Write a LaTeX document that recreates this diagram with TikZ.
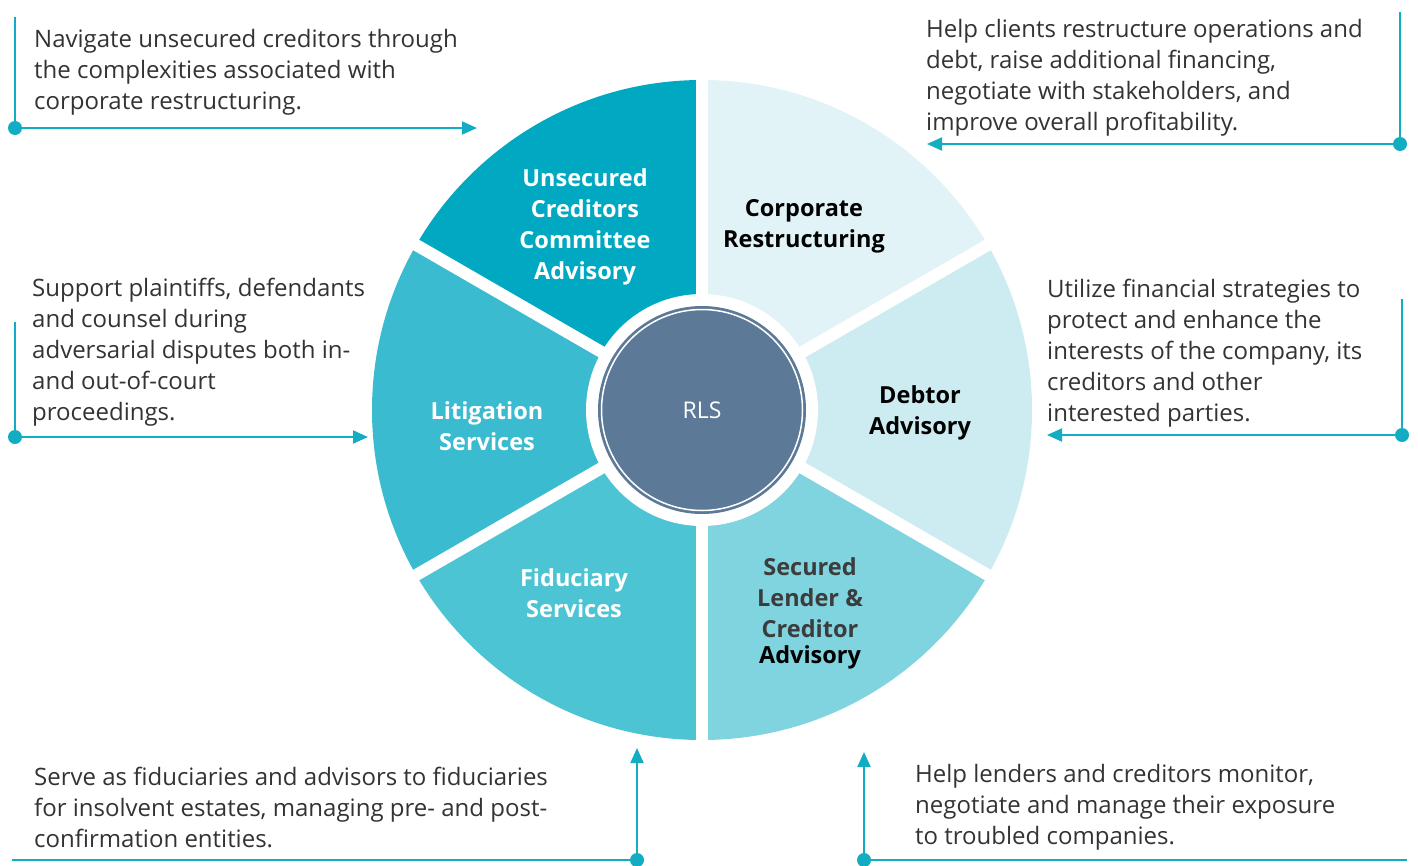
\documentclass[tikz,border=0pt]{standalone}
\usepackage{fontspec}
\setmainfont{Open Sans}
\usetikzlibrary{arrows.meta,calc}
\definecolor{cUnsec}{HTML}{00A9C1}
\definecolor{cCorp}{HTML}{E1F3F6}
\definecolor{cDebt}{HTML}{CCECF1}
\definecolor{cSec}{HTML}{7FD4E0}
\definecolor{cFid}{HTML}{4DC4D4}
\definecolor{cLit}{HTML}{3BBBCF}
\definecolor{cCenter}{HTML}{5C7A98}
\definecolor{cLine}{HTML}{12ADC2}
\definecolor{cText}{HTML}{333333}
\definecolor{cDark}{HTML}{3C3C3C}
\begin{document}
\begin{tikzpicture}[x=1pt,y=-1pt,
  conn/.style={draw=cLine, line width=2pt},
  arr/.style={conn, -{Triangle[length=15pt,width=13pt]}},
  dotnode/.style={circle, fill=cLine, minimum size=14pt, inner sep=0pt},
  desc/.style={align=left, anchor=west, inner sep=0pt, text=cText, font=\fontsize{24}{31}\selectfont},
  lab/.style={align=center, inner sep=0pt, font=\bfseries\fontsize{23.5}{31}\selectfont},
  gap/.style={draw=white, line width=12pt},
]
\useasboundingbox (0,0) rectangle (1418,865);
\coordinate (C) at (702,410);

% sectors (triangles clipped to the outer circle)
\begin{scope}
  \clip (C) circle (330);
  \fill[cUnsec] (C) -- ++(-150:700) -- ($(C)+(-90:700)$) -- cycle;
  \fill[cCorp]  (C) -- ++(-90:700)  -- ($(C)+(-30:700)$) -- cycle;
  \fill[cDebt]  (C) -- ++(-30:700)  -- ($(C)+(30:700)$) -- cycle;
  \fill[cSec]   (C) -- ++(30:700)   -- ($(C)+(90:700)$) -- cycle;
  \fill[cFid]   (C) -- ++(90:700)   -- ($(C)+(150:700)$) -- cycle;
  \fill[cLit]   (C) -- ++(150:700)  -- ($(C)+(210:700)$) -- cycle;
\end{scope}
\foreach \a in {90,30,-30,-90,-150,150} \draw[gap] (C) -- ++(\a:345);
\fill[white] (C) circle (116);
\node[circle, fill=cCenter, minimum size=208pt, inner sep=0pt, text=white, font=\fontsize{23}{28}\selectfont] (rls) at (C) {RLS};
\draw[white, line width=1.5pt] (C) circle (100.5);

% segment labels
\node[lab, text=white] (lUnsec) at (585,227) {Unsecured\\Creditors\\Committee\\Advisory};
\node[lab, text=black] (lCorp) at (804,226) {Corporate\\Restructuring};
\node[lab, text=black] (lDebt) at (920,413) {Debtor\\Advisory};
\node[lab, text=cDark] (lSec) at (810,613) {Secured\\Lender \&\\Creditor\\[-5pt]{\color{black}Advisory}};
\node[lab, text=white] (lFid) at (574,593) {Fiduciary\\Services};
\node[lab, text=white] (lLit) at (487,426) {Litigation\\Services};

% descriptions
\node[desc] (t1) at (34,72) {Navigate unsecured creditors through\\the complexities associated with\\corporate restructuring.};
\node[desc] (t2) at (926,78) {Help clients restructure operations and\\debt, raise additional financing,\\negotiate with stakeholders, and\\improve overall profitability.};
\node[desc] (t3) at (1047,353) {Utilize financial strategies to\\protect and enhance the\\interests of the company, its\\creditors and other\\interested parties.};
\node[desc] (t4) at (32,352) {Support plaintiffs, defendants\\and counsel during\\adversarial disputes both in-\\and out-of-court\\proceedings.};
\node[desc] (t5) at (34,807) {Serve as fiduciaries and advisors to fiduciaries\\for insolvent estates, managing pre- and post-\\confirmation entities.};
\node[desc] (t6) at (915,807) {Help lenders and creditors monitor,\\negotiate and manage their exposure\\to troubled companies.};

% connectors
\node[dotnode] (d1) at (15,128) {};
\coordinate (v1) at (15,17);
\coordinate (a1) at (477,128);
\draw[conn] (d1.center) -- (v1);
\draw[arr] (d1.center) -- (a1);

\node[dotnode] (d2) at (1400,144) {};
\coordinate (v2) at (1400,12);
\coordinate (a2) at (927,144);
\draw[conn] (d2.center) -- (v2);
\draw[arr] (d2.center) -- (a2);

\node[dotnode] (d3) at (1402,435) {};
\coordinate (v3) at (1402,299);
\coordinate (a3) at (1047,435);
\draw[conn] (d3.center) -- (v3);
\draw[arr] (d3.center) -- (a3);

\node[dotnode] (d4) at (15,437) {};
\coordinate (v4) at (15,322);
\coordinate (a4) at (368,437);
\draw[conn] (d4.center) -- (v4);
\draw[arr] (d4.center) -- (a4);

\node[dotnode] (d5) at (637,860) {};
\coordinate (v5) at (12,860);
\coordinate (a5) at (637,748);
\draw[conn] (d5.center) -- (v5);
\draw[arr] (d5.center) -- (a5);

\node[dotnode] (d6) at (864,860) {};
\coordinate (v6) at (1407,860);
\coordinate (a6) at (864,752);
\draw[conn] (d6.center) -- (v6);
\draw[arr] (d6.center) -- (a6);
\end{tikzpicture}
\end{document}
